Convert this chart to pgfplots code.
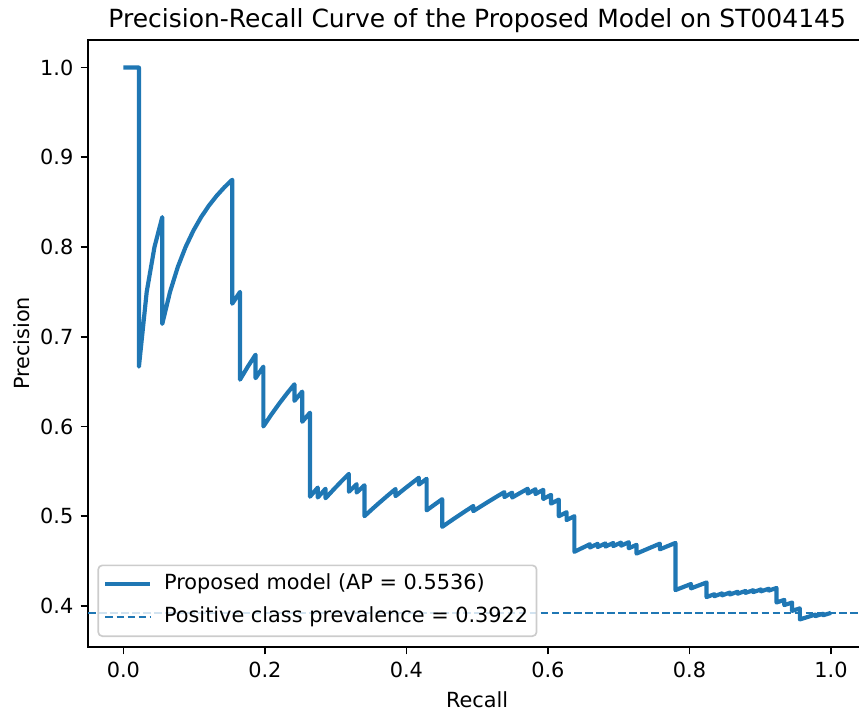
\documentclass[border=0pt]{standalone}
\usepackage{fontspec}
\setmainfont{DejaVu Sans}
\usepackage{pgfplots}
\usepackage{pgfplotstable}
\pgfplotsset{compat=1.18}

\definecolor{mplblue}{HTML}{1F77B4}
\definecolor{legendedge}{HTML}{CCCCCC}

% Precision-recall pairs (91 positives, 232 samples)
\pgfplotstableread{
recall precision
0.00000 1.00000
0.01099 1.00000
0.02198 1.00000
0.02198 0.66667
0.03297 0.75000
0.04396 0.80000
0.05495 0.83333
0.05495 0.71429
0.06593 0.75000
0.07692 0.77778
0.08791 0.80000
0.09890 0.81818
0.10989 0.83333
0.12088 0.84615
0.13187 0.85714
0.14286 0.86667
0.15385 0.87500
0.15385 0.73684
0.16484 0.75000
0.16484 0.65217
0.17582 0.66667
0.18681 0.68000
0.18681 0.65385
0.19780 0.66667
0.19780 0.60000
0.20879 0.61290
0.21978 0.62500
0.23077 0.63636
0.24176 0.64706
0.24176 0.62857
0.25275 0.63889
0.25275 0.60526
0.26374 0.61538
0.26374 0.52174
0.27473 0.53191
0.27473 0.52083
0.28571 0.53061
0.28571 0.52000
0.29670 0.52941
0.30769 0.53846
0.31868 0.54717
0.31868 0.52727
0.32967 0.53571
0.32967 0.52632
0.34066 0.53448
0.34066 0.50000
0.35165 0.50794
0.36264 0.51563
0.37363 0.52308
0.38462 0.53030
0.38462 0.52239
0.39560 0.52941
0.40659 0.53623
0.41758 0.54286
0.41758 0.53521
0.42857 0.54167
0.42857 0.50649
0.43956 0.51282
0.45055 0.51899
0.45055 0.48810
0.46154 0.49412
0.47253 0.50000
0.48352 0.50575
0.49451 0.51136
0.49451 0.50562
0.50549 0.51111
0.51648 0.51648
0.52747 0.52174
0.53846 0.52688
0.53846 0.52128
0.54945 0.52632
0.54945 0.52083
0.56044 0.52577
0.57143 0.53061
0.57143 0.52525
0.58242 0.53000
0.58242 0.52475
0.59341 0.52941
0.59341 0.51923
0.60440 0.52381
0.60440 0.51402
0.61538 0.51852
0.61538 0.50000
0.62637 0.50442
0.62637 0.49565
0.63736 0.50000
0.63736 0.46032
0.64835 0.46457
0.65934 0.46875
0.65934 0.46512
0.67033 0.46923
0.67033 0.46565
0.68132 0.46970
0.68132 0.46617
0.69231 0.47015
0.69231 0.46667
0.70330 0.47059
0.70330 0.46715
0.71429 0.47101
0.71429 0.46429
0.72527 0.46809
0.72527 0.45833
0.73626 0.46207
0.74725 0.46575
0.75824 0.46939
0.75824 0.46309
0.76923 0.46667
0.78022 0.47020
0.78022 0.41765
0.79121 0.42105
0.80220 0.42442
0.80220 0.41954
0.81319 0.42286
0.82418 0.42614
0.82418 0.40984
0.83516 0.41304
0.83516 0.41081
0.84615 0.41398
0.84615 0.41176
0.85714 0.41489
0.85714 0.41270
0.86813 0.41579
0.86813 0.41361
0.87912 0.41667
0.87912 0.41451
0.89011 0.41753
0.89011 0.41538
0.90110 0.41837
0.90110 0.41624
0.91209 0.41919
0.91209 0.41709
0.92308 0.42000
0.92308 0.41791
0.92308 0.40385
0.93407 0.40670
0.93407 0.40094
0.94505 0.40376
0.94505 0.39450
0.95604 0.39726
0.95604 0.38496
0.96703 0.38767
0.97802 0.39035
0.97802 0.38865
0.98901 0.39130
0.98901 0.38961
1.00000 0.39224
}\prcurve

\begin{document}
\begin{tikzpicture}
\begin{axis}[
  name=ax,
  scale only axis,
  width=373.6pt, height=291.36pt,
  xmin=-0.05, xmax=1.05,
  ymin=0.35421, ymax=1.03075,
  xtick={0,0.2,0.4,0.6,0.8,1.0},
  ytick={0.4,0.5,0.6,0.7,0.8,0.9,1.0},
  xtick pos=bottom, ytick pos=left,
  tick align=outside,
  major tick length=3.5pt,
  tick style={black, line width=0.8pt},
  axis line style={line width=0.8pt},
  ticklabel style={font=\fontsize{10}{12}\selectfont},
  xticklabel style={/pgf/number format/fixed, /pgf/number format/fixed zerofill,
    /pgf/number format/precision=1, /pgf/number format/assume math mode=true},
  yticklabel style={/pgf/number format/fixed, /pgf/number format/fixed zerofill,
    /pgf/number format/precision=1, /pgf/number format/assume math mode=true},
  xlabel={Recall}, ylabel={Precision},
  label style={font=\fontsize{10}{12}\selectfont},
  xlabel style={at={(axis description cs:0.5,-0.0872)}, anchor=center},
  ylabel style={at={(axis description cs:-0.0848,0.5)}, anchor=center},
  title={Precision-Recall Curve of the Proposed Model on ST004145},
  title style={font=\fontsize{12}{14.4}\selectfont, at={(axis description cs:0.5,1)}, anchor=base},
  legend cell align=left,
  legend image code/.code={\draw[#1] (0pt,0pt) -- (21.6pt,0pt);},
  legend style={at={(axis description cs:0,0)}, anchor=south west, xshift=4.5pt, yshift=4.8pt,
    draw=legendedge, line width=0.8pt, fill=white, fill opacity=0.8, draw opacity=1, text opacity=1,
    rounded corners=2pt, inner sep=2.5pt, row sep=3pt, column sep=4pt,
    font=\fontsize{10}{12}\selectfont,
    nodes={inner sep=1.5pt, text height=7.6pt, text depth=2.4pt}},
]
\addplot[mplblue, line width=2pt, line join=round] table[x=recall, y=precision] {\prcurve};
\addlegendentry{Proposed model (AP = 0.5536)}
\addplot[mplblue, line width=1pt, dash pattern=on 3.7pt off 1.6pt] coordinates {(-0.05,0.39224) (1.05,0.39224)};
\addlegendentry{Positive class prevalence = 0.3922}
\end{axis}
\pgfresetboundingbox
\path[use as bounding box] ([shift={(-42.24pt,-32.16pt)}]ax.south west) rectangle ([shift={(370.08pt,19.2pt)}]ax.north west);
\end{tikzpicture}
\end{document}
